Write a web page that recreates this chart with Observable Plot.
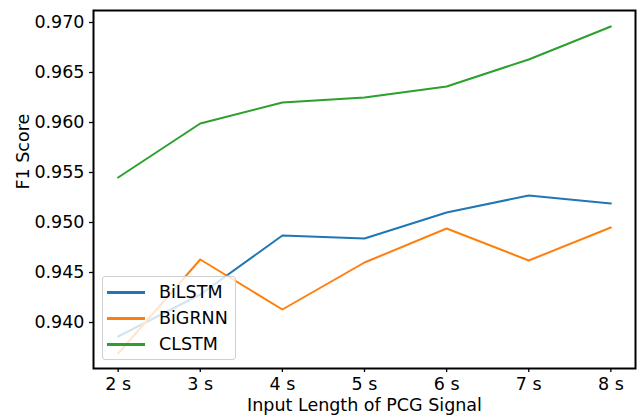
<!DOCTYPE html>
<html>
<head>
<meta charset="utf-8">
<script src="https://cdn.jsdelivr.net/npm/d3@7"></script>
<script src="https://cdn.jsdelivr.net/npm/@observablehq/plot@0.6"></script>
<style>
  html, body { margin: 0; padding: 0; background: #fff; }
  #wrap { position: relative; width: 638px; height: 417px; }
  #legend {
    position: absolute; left: 102px; top: 276px; width: 132px; height: 82px;
    background: rgba(255,255,255,0.8); border: 1px solid #d0d0d0; border-radius: 3px;
    font-family: "DejaVu Sans", sans-serif; font-size: 17.5px; color: #000;
  }
  .item { position: absolute; left: 0; height: 20px; }
  .item .sw { position: absolute; left: 4px; width: 38px; height: 3px; top: 9px; }
  .item .lb { position: absolute; left: 56px; top: 0; line-height: 20px; white-space: nowrap; }
</style>
</head>
<body>
<div id="wrap"></div>
<script>
const lengths = [2, 3, 4, 5, 6, 7, 8];
const tickLabels = ["2 s", "3 s", "4 s", "5 s", "6 s", "7 s", "8 s"];
const seriesNames = ["BiLSTM", "BiGRNN", "CLSTM"];
const colors = ["#1f77b4", "#ff7f0e", "#2ca02c"];
const bilstm = [0.9386, 0.9428, 0.9487, 0.9484, 0.9510, 0.9527, 0.9519];
const bigrnn = [0.9369, 0.9463, 0.9413, 0.9460, 0.9494, 0.9462, 0.9495];
const clstm  = [0.9545, 0.9599, 0.9620, 0.9625, 0.9636, 0.9663, 0.9696];
const yTicks = [0.940, 0.945, 0.950, 0.955, 0.960, 0.965, 0.970];

const allSeries = [bilstm, bigrnn, clstm];
const rows = [];
allSeries.forEach((vals, si) => vals.forEach((v, i) => rows.push({len: lengths[i], f1: v, model: seriesNames[si]})));

const chart = Plot.plot({
  width: 638, height: 417,
  marginLeft: 93, marginRight: 3, marginTop: 10, marginBottom: 49,
  style: {fontFamily: "DejaVu Sans, sans-serif", fontSize: "17.5px", color: "#000", background: "#fff"},
  x: {domain: [1.7, 8.3]},
  y: {domain: [0.9354, 0.9712]},
  color: {domain: seriesNames, range: colors},
  marks: [
    Plot.line(rows, {x: "len", y: "f1", z: "model", stroke: "model", strokeWidth: 2}),
    Plot.frame({stroke: "#000", strokeWidth: 2}),
    Plot.axisX({ticks: lengths, tickFormat: (d) => tickLabels[lengths.indexOf(d)], tickSize: 4, tickPadding: 5, fontSize: 17.5, label: null, strokeWidth: 1.3}),
    Plot.axisY({ticks: yTicks, tickFormat: d3.format(".3f"), tickSize: 4, tickPadding: 5, fontSize: 17.5, label: null, strokeWidth: 1.3}),
    Plot.text(["Input Length of PCG Signal"], {frameAnchor: "bottom", dy: 42, fontSize: 17.5, fill: "#000"}),
    Plot.text(["F1 Score"], {frameAnchor: "left", dx: -70, rotate: -90, fontSize: 17.5, fill: "#000"})
  ]
});
const wrap = document.getElementById("wrap");
wrap.appendChild(chart);

const legend = document.createElement("div");
legend.id = "legend";
seriesNames.forEach((name, i) => {
  const it = document.createElement("div");
  it.className = "item";
  it.style.top = (5 + i * 26) + "px";
  it.innerHTML = `<div class="sw" style="background:${colors[i]}"></div><div class="lb">${name}</div>`;
  legend.appendChild(it);
});
wrap.appendChild(legend);
</script>
</body>
</html>
